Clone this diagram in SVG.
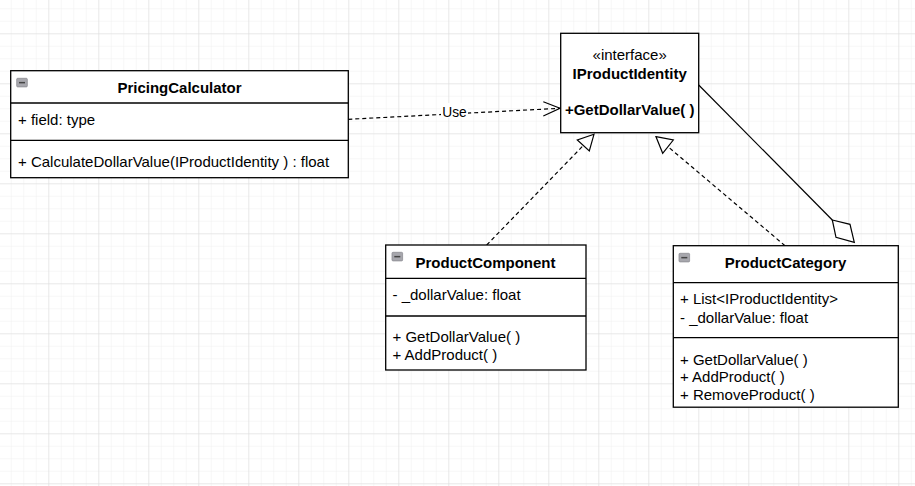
<svg xmlns="http://www.w3.org/2000/svg" width="915" height="486" viewBox="0 0 915 486">
<defs>
<pattern id="minor" x="-1.7" y="8.3" width="12.5" height="12.5" patternUnits="userSpaceOnUse">
<path d="M0 0H12.5M0 0V12.5" fill="none" stroke="#f0f0f0" stroke-width="1"/>
</pattern>
<pattern id="major" x="-1.7" y="-16.7" width="50" height="50" patternUnits="userSpaceOnUse">
<path d="M0 0H50M0 0V50" fill="none" stroke="#dcdcdc" stroke-width="1"/>
</pattern>
<g id="icon">
<rect x="0" y="0" width="10.6" height="8.6" rx="1" fill="#a7a7ad" stroke="#8d8d93" stroke-width="0.8"/>
<rect x="2.3" y="3.6" width="6" height="1.5" fill="#444"/>
</g>
</defs>
<style>
.box{fill:#fff;stroke:#000;stroke-width:1.3}
.div{stroke:#000;stroke-width:1.3}
text{font-family:"Liberation Sans",Arial,sans-serif;font-size:15px;fill:#000}
.b{font-weight:bold}
.c{text-anchor:middle}
.dash{fill:none;stroke:#000;stroke-width:1.2;stroke-dasharray:4 3}
.line{fill:none;stroke:#000;stroke-width:1.2}
.head{fill:#fff;stroke:#000;stroke-width:1.2}
</style>
<rect width="915" height="486" fill="#fff"/>
<rect width="915" height="486" fill="url(#minor)"/>
<rect width="915" height="486" fill="url(#major)"/>

<g id="connectors">
<path class="dash" d="M348.3 119.3 L560 108.3"/>
<rect x="441" y="103" width="27" height="15" fill="#fff"/>
<text x="454.5" y="117.3" class="c" style="font-size:13.75px">Use</text>
<path class="line" d="M543.3 101.7 L560 108.3 L543.3 116"/>
<path class="dash" d="M486.7 245 L583.3 145.5"/>
<path class="head" d="M594 134.3 L577.3 140 L589.3 151 Z"/>
<path class="dash" d="M785 245.7 L668 146.7"/>
<path class="head" d="M656 136.7 L673.3 140 L662.7 153.3 Z"/>
<path class="line" d="M698.7 85 L832.3 220"/>
<path class="head" d="M832.3 220 L850 224.3 L854.3 242.3 L836 237.3 Z"/>
</g>

<g id="PricingCalculator">
<rect class="box" x="10.7" y="70.7" width="337.6" height="107"/>
<line class="div" x1="10.7" y1="103" x2="348.3" y2="103"/>
<line class="div" x1="10.7" y1="140.3" x2="348.3" y2="140.3"/>
<use href="#icon" x="16.7" y="78.3"/>
<text x="179.5" y="92.5" class="b c">PricingCalculator</text>
<text x="18" y="124.5">+ field: type</text>
<text x="18" y="167">+ CalculateDollarValue(IProductIdentity ) : float</text>
</g>

<g id="IProductIdentity">
<rect class="box" x="560.7" y="33.3" width="138" height="99.4"/>
<text x="629.7" y="59.5" class="c">«interface»</text>
<text x="629.7" y="78.5" class="b c">IProductIdentity</text>
<text x="629.7" y="114.5" class="b c">+GetDollarValue( )</text>
</g>

<g id="ProductComponent">
<rect class="box" x="385.7" y="245" width="200.3" height="125"/>
<line class="div" x1="385.7" y1="278.3" x2="586" y2="278.3"/>
<line class="div" x1="385.7" y1="316" x2="586" y2="316"/>
<use href="#icon" x="392" y="252.3"/>
<text x="485.5" y="267.7" class="b c">ProductComponent</text>
<text x="392.5" y="299.5">- _dollarValue: float</text>
<text x="392.5" y="342">+ GetDollarValue( )</text>
<text x="392.5" y="360">+ AddProduct( )</text>
</g>

<g id="ProductCategory">
<rect class="box" x="673.3" y="245.7" width="225" height="161.5"/>
<line class="div" x1="673.3" y1="282.7" x2="898.3" y2="282.7"/>
<line class="div" x1="673.3" y1="337.7" x2="898.3" y2="337.7"/>
<use href="#icon" x="679" y="253.3"/>
<text x="785.5" y="268" class="b c">ProductCategory</text>
<text x="680" y="304.3">+ List&lt;IProductIdentity&gt;</text>
<text x="680" y="322.7">- _dollarValue: float</text>
<text x="680" y="364.5">+ GetDollarValue( )</text>
<text x="680" y="382.2">+ AddProduct( )</text>
<text x="680" y="399.7">+ RemoveProduct( )</text>
</g>
</svg>
